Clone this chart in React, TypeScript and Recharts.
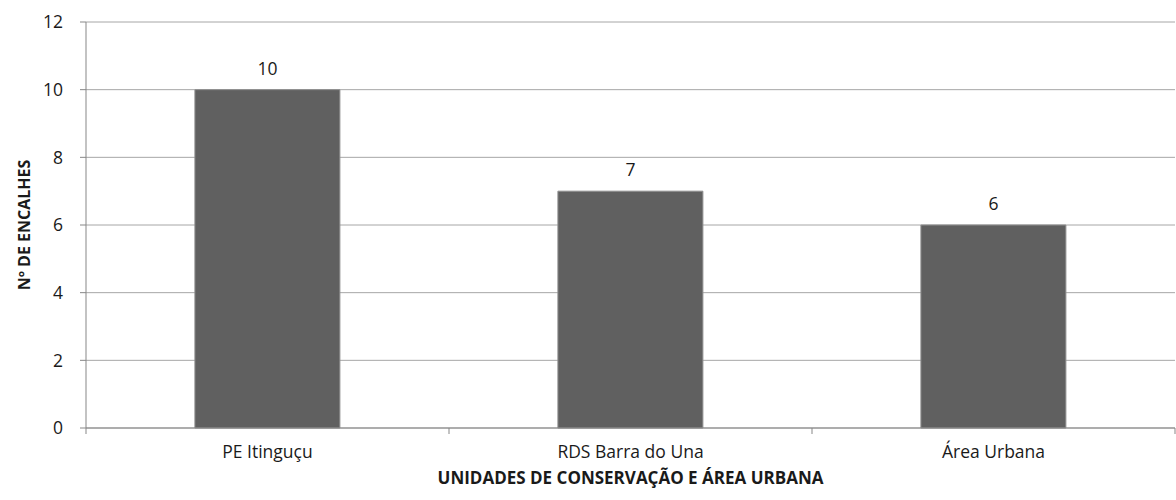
import { BarChart, Bar, XAxis, YAxis, CartesianGrid, LabelList } from "recharts";

const categories = ["PE Itinguçu", "RDS Barra do Una", "Área Urbana"];
const encalhes = [10, 7, 6];
const yTicks = [0, 2, 4, 6, 8, 10, 12];

const data = categories.map((name, i) => ({ name, encalhes: encalhes[i] }));

const FONT = "'Open Sans', sans-serif";
const TEXT = "#1a1a1a";
const AXIS = "#878787";

// Excel puts the category ticks on the band edges, not the centres
const EdgeTick = (props: any) => {
  const { x, y, payload, index, visibleTicksCount, width } = props;
  const half = payload?.offset ? payload.offset : width / visibleTicksCount / 2;
  const last = index === visibleTicksCount - 1;
  return (
    <g>
      <line x1={x - half} x2={x - half} y1={y} y2={y + 6} stroke={AXIS} />
      {last && <line x1={x + half} x2={x + half} y1={y} y2={y + 6} stroke={AXIS} />}
      <text x={x} y={y + 30} textAnchor="middle" fill={TEXT} fontFamily={FONT} fontSize={17.5}>
        {payload.value}
      </text>
    </g>
  );
};

export default function App() {
  return (
    <div style={{ position: "absolute", left: 0, top: 0, background: "#fff" }}>
      <BarChart
        width={1176}
        height={500}
        data={data}
        margin={{ top: 22, right: 1, left: 0, bottom: 0 }}
        barCategoryGap="30%"
      >
        <CartesianGrid vertical={false} stroke="#a6a6a6" />
        <XAxis
          dataKey="name"
          height={72}
          stroke={AXIS}
          tickLine={false}
          tickSize={0}
          tickMargin={0}
          tick={<EdgeTick />}
          interval={0}
          label={{
            value: "UNIDADES DE CONSERVAÇÃO E ÁREA URBANA",
            position: "insideBottom",
            offset: 16,
            fill: TEXT,
            fontFamily: FONT,
            fontSize: 17,
            fontWeight: 700,
          }}
        />
        <YAxis
          width={86}
          domain={[0, 12]}
          ticks={yTicks}
          interval={0}
          stroke={AXIS}
          tickSize={6}
          tickMargin={17}
          tick={{ fill: TEXT, fontFamily: FONT, fontSize: 17.5 }}
          label={{
            value: "Nº DE ENCALHES",
            angle: -90,
            position: "center",
            dx: -19,
            fill: TEXT,
            fontFamily: FONT,
            fontSize: 16,
            fontWeight: 700,
          }}
        />
        <Bar dataKey="encalhes" fill="#606060" stroke="#8f8f8f" isAnimationActive={false}>
          <LabelList
            dataKey="encalhes"
            position="top"
            offset={15}
            fill={TEXT}
            fontFamily={FONT}
            fontSize={17.5}
          />
        </Bar>
      </BarChart>
    </div>
  );
}
